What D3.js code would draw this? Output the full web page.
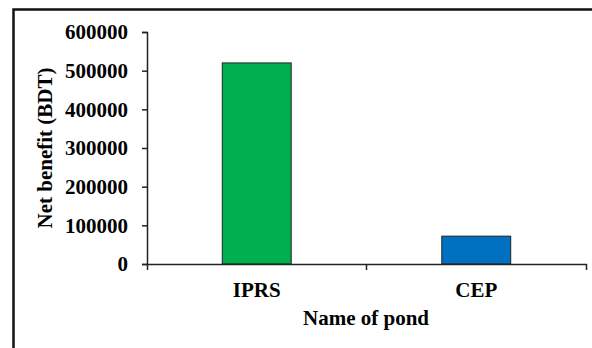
<!DOCTYPE html>
<html>
<head>
<meta charset="utf-8">
<script src="https://cdn.jsdelivr.net/npm/d3@7"></script>
<style>
  body { margin: 0; background: #fff; }
  text { font-family: "Liberation Serif", "Times New Roman", serif; font-weight: bold; }
</style>
</head>
<body>
<script>
// net benefit per pond type
var ponds = ["IPRS", "CEP"];
var netBenefit = [520000, 72000];
var colors = ["#00b050", "#0070c0"];
var yTicks = [0, 100000, 200000, 300000, 400000, 500000, 600000];

var width = 592,
    height = 348,
    svg = d3.select("body")
    .append("svg")
    .attr("width", width)
    .attr("height", height);

// outer frame (runs off the right and bottom edge)
svg.append("rect")
    .attr("x", 13.5)
    .attr("y", 9.5)
    .attr("width", 620)
    .attr("height", 400)
    .attr("fill", "none")
    .attr("stroke", "#111")
    .attr("stroke-width", 2.5);

var x = d3.scaleBand()
    .domain(ponds)
    .range([147, 586])
    .paddingInner(0.686)
    .paddingOuter(0.343);

var y = d3.scaleLinear()
    .domain([0, 600000])
    .range([264, 32]);

svg.selectAll("rect.bar")
  .data(ponds)
  .enter().append("rect")
    .attr("class", "bar")
    .attr("x", function(d) { return x(d); })
    .attr("y", function(d, i) { return y(netBenefit[i]); })
    .attr("width", x.bandwidth())
    .attr("height", function(d, i) { return y(0) - y(netBenefit[i]); })
    .attr("fill", function(d, i) { return colors[i]; })
    .attr("stroke", "#222")
    .attr("stroke-width", 1);

var yAxis = svg.append("g")
    .attr("transform", "translate(147,0)")
    .call(d3.axisLeft(y)
      .tickValues(yTicks)
      .tickFormat(d3.format("d"))
      .tickSize(5)
      .tickPadding(14));

var xAxis = svg.append("g")
    .attr("transform", "translate(0,264)")
    .call(d3.axisBottom(x)
      .tickSize(0)
      .tickSizeOuter(6)
      .tickPadding(18));

// tick between the two categories
xAxis.append("line")
    .attr("x1", x.range()[0] + x.step())
    .attr("x2", x.range()[0] + x.step())
    .attr("y1", 0)
    .attr("y2", 6)
    .attr("stroke", "#222");

[yAxis, xAxis].forEach(function(g) {
  g.selectAll("path, line").attr("stroke", "#222").attr("stroke-width", 1.5);
  g.selectAll("text")
      .attr("fill", "#000")
      .style("font-size", "21px")
      .style("font-family", "'Liberation Serif', serif")
      .style("font-weight", "bold");
});

svg.append("text")
    .attr("transform", "rotate(-90)")
    .attr("x", -148)
    .attr("y", 52)
    .attr("text-anchor", "middle")
    .attr("font-size", 21)
    .text("Net benefit (BDT)");

svg.append("text")
    .attr("x", 366)
    .attr("y", 325)
    .attr("text-anchor", "middle")
    .attr("font-size", 21)
    .text("Name of pond");
</script>
</body>
</html>
